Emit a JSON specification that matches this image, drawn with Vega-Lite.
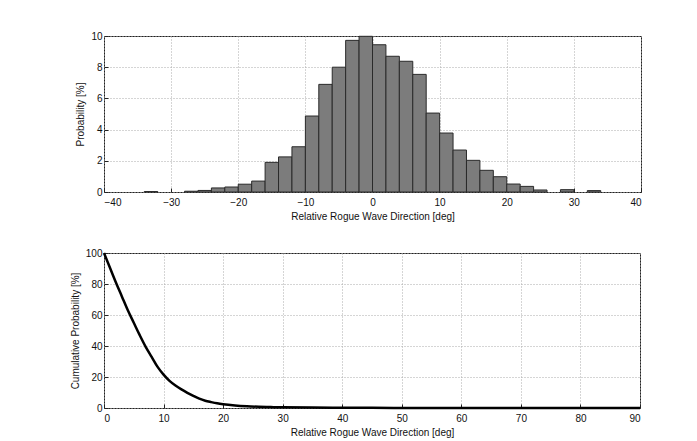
{
  "$schema": "https://vega.github.io/schema/vega-lite/v6.json",
  "background": "white",
  "padding": {"left": 69, "top": 30, "right": 10, "bottom": 5},
  "spacing": 25,
  "config": {
    "font": "Liberation Sans",
    "view": {"stroke": "#222", "strokeWidth": 1},
    "axis": {
      "labelFont": "Liberation Sans",
      "titleFont": "Liberation Sans",
      "labelFontSize": 10,
      "titleFontSize": 10,
      "titleFontWeight": "normal",
      "labelColor": "#111",
      "titleColor": "#111",
      "domain": false,
      "grid": true,
      "gridColor": "#aaa",
      "gridDash": [1, 2],
      "gridWidth": 1,
      "tickColor": "#222",
      "tickSize": -4
    },
    "axisX": {"labelPadding": 9, "titlePadding": 4},
    "axisY": {"labelPadding": 6, "titlePadding": 5}
  },
  "datasets": {
    "hist": [
      {"lo": -34, "hi": -32, "p": 0.03},
      {"lo": -28, "hi": -26, "p": 0.05},
      {"lo": -26, "hi": -24, "p": 0.1},
      {"lo": -24, "hi": -22, "p": 0.26},
      {"lo": -22, "hi": -20, "p": 0.32},
      {"lo": -20, "hi": -18, "p": 0.5},
      {"lo": -18, "hi": -16, "p": 0.7},
      {"lo": -16, "hi": -14, "p": 1.9},
      {"lo": -14, "hi": -12, "p": 2.25},
      {"lo": -12, "hi": -10, "p": 2.9},
      {"lo": -10, "hi": -8, "p": 4.87},
      {"lo": -8, "hi": -6, "p": 6.9},
      {"lo": -6, "hi": -4, "p": 8.0},
      {"lo": -4, "hi": -2, "p": 9.72},
      {"lo": -2, "hi": 0, "p": 9.98},
      {"lo": 0, "hi": 2, "p": 9.44},
      {"lo": 2, "hi": 4, "p": 8.7},
      {"lo": 4, "hi": 6, "p": 8.38},
      {"lo": 6, "hi": 8, "p": 7.54},
      {"lo": 8, "hi": 10, "p": 5.06},
      {"lo": 10, "hi": 12, "p": 3.78},
      {"lo": 12, "hi": 14, "p": 2.69},
      {"lo": 14, "hi": 16, "p": 2.03},
      {"lo": 16, "hi": 18, "p": 1.39},
      {"lo": 18, "hi": 20, "p": 0.98},
      {"lo": 20, "hi": 22, "p": 0.51},
      {"lo": 22, "hi": 24, "p": 0.36},
      {"lo": 24, "hi": 26, "p": 0.13},
      {"lo": 28, "hi": 30, "p": 0.15},
      {"lo": 32, "hi": 34, "p": 0.09}
    ],
    "cum": [
      {"d": 0, "c": 100},
      {"d": 1, "c": 90.5},
      {"d": 2, "c": 81},
      {"d": 3, "c": 72},
      {"d": 4, "c": 63},
      {"d": 5, "c": 55},
      {"d": 6, "c": 47},
      {"d": 7, "c": 39.5},
      {"d": 8, "c": 33},
      {"d": 9, "c": 26.5},
      {"d": 10, "c": 21.5},
      {"d": 11, "c": 17.5},
      {"d": 12, "c": 14.5},
      {"d": 13, "c": 12},
      {"d": 14, "c": 9.8},
      {"d": 15, "c": 7.8},
      {"d": 16, "c": 6},
      {"d": 17, "c": 4.7},
      {"d": 18, "c": 3.8},
      {"d": 19, "c": 3},
      {"d": 20, "c": 2.4},
      {"d": 22, "c": 1.6},
      {"d": 24, "c": 1.1},
      {"d": 26, "c": 0.8},
      {"d": 28, "c": 0.6},
      {"d": 30, "c": 0.45},
      {"d": 35, "c": 0.3},
      {"d": 40, "c": 0.2},
      {"d": 45, "c": 0.1},
      {"d": 50, "c": 0.05},
      {"d": 60, "c": 0.02},
      {"d": 70, "c": 0.01},
      {"d": 90, "c": 0}
    ]
  },
  "vconcat": [
    {
      "width": 537,
      "height": 156,
      "data": {"name": "hist"},
      "mark": {"type": "bar", "fill": "#7c7c7c", "stroke": "#2a2a2a", "strokeWidth": 1},
      "encoding": {
        "x": {
          "field": "lo",
          "type": "quantitative",
          "scale": {"domain": [-40, 40], "nice": false},
          "axis": {"values": [-40, -30, -20, -10, 0, 10, 20, 30, 40], "title": "Relative Rogue Wave Direction [deg]"}
        },
        "x2": {"field": "hi"},
        "y": {
          "field": "p",
          "type": "quantitative",
          "scale": {"domain": [0, 10], "nice": false},
          "axis": {"values": [0, 2, 4, 6, 8, 10], "title": "Probability [%]"}
        },
        "y2": {"datum": 0}
      }
    },
    {
      "width": 536,
      "height": 155,
      "data": {"name": "cum"},
      "mark": {"type": "line", "color": "#000", "strokeWidth": 2.5, "interpolate": "monotone"},
      "encoding": {
        "x": {
          "field": "d",
          "type": "quantitative",
          "scale": {"domain": [0, 90], "nice": false},
          "axis": {"values": [0, 10, 20, 30, 40, 50, 60, 70, 80, 90], "title": "Relative Rogue Wave Direction [deg]"}
        },
        "y": {
          "field": "c",
          "type": "quantitative",
          "scale": {"domain": [0, 100], "nice": false},
          "axis": {"values": [0, 20, 40, 60, 80, 100], "title": "Cumulative Probability [%]"}
        }
      }
    }
  ]
}
